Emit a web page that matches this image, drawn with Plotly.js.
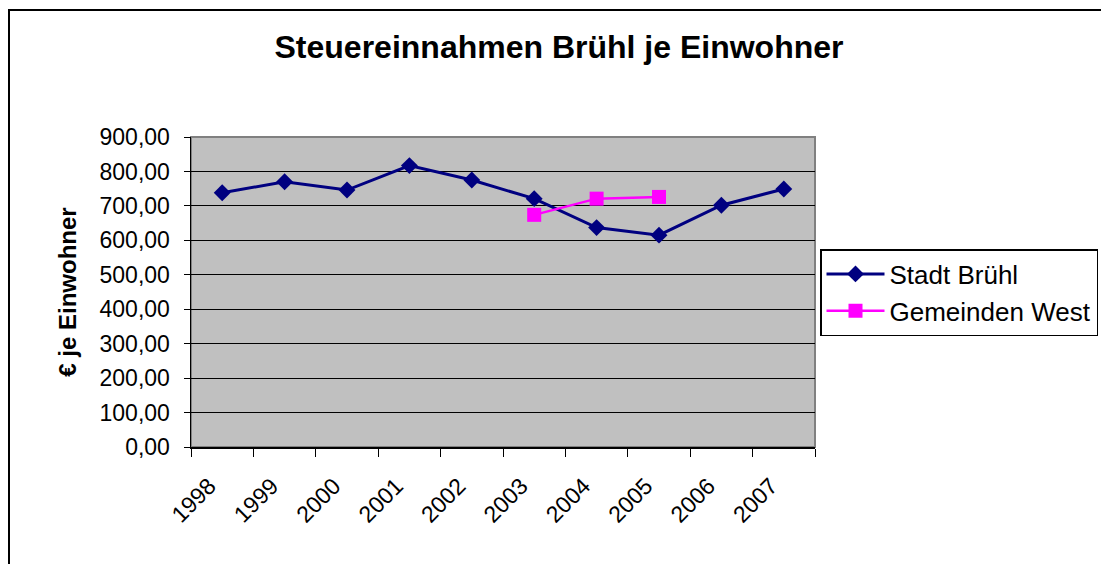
<!DOCTYPE html>
<html>
<head>
<meta charset="utf-8">
<script src="https://cdn.plot.ly/plotly-3.0.1.min.js"></script>
<style>
  html, body { margin: 0; padding: 0; background: #fff; }
  #wrap { position: relative; width: 1101px; height: 564px; overflow: hidden; }
  #chart { position: absolute; left: 0; top: 0; width: 1101px; height: 564px; }
  #frame { position: absolute; left: 8px; top: 9px; width: 1200px; height: 700px;
           border-left: 2px solid #000; border-top: 2px solid #000; pointer-events: none; }
</style>
</head>
<body>
<div id="wrap">
  <div id="chart"></div>
  <div id="frame"></div>
</div>
<script>
const years = ['1998','1999','2000','2001','2002','2003','2004','2005','2006','2007'];
const stadtBruehl = [738, 770, 746, 817, 775, 721, 637, 615, 702, 749];
const westYears = ['2003','2004','2005'];
const gemeindenWest = [674, 721, 726];
const yTickVals = [0,100,200,300,400,500,600,700,800,900];
const yTickText = ['0,00','100,00','200,00','300,00','400,00','500,00','600,00','700,00','800,00','900,00'];

const FONT = 'Arial, "Liberation Sans", sans-serif';

const traces = [
  {
    x: years, y: stadtBruehl, name: 'Stadt Brühl', type: 'scatter', mode: 'lines+markers',
    line: {color: '#000080', width: 3},
    marker: {symbol: 'diamond', size: 13, color: '#000080'}
  },
  {
    x: westYears, y: gemeindenWest, name: 'Gemeinden West', type: 'scatter', mode: 'lines+markers',
    line: {color: '#FF00FF', width: 2.5},
    marker: {symbol: 'square', size: 14, color: '#FF00FF'}
  }
];

const layout = {
  width: 1101, height: 564,
  paper_bgcolor: 'rgba(0,0,0,0)',
  plot_bgcolor: '#C0C0C0',
  margin: {l: 191, r: 286, t: 137, b: 117, pad: 0, autoexpand: false},
  font: {family: FONT, color: '#000', size: 22},
  showlegend: true,
  title: {
    text: 'Steuereinnahmen Brühl je Einwohner',
    font: {family: FONT, size: 32, color: '#000', weight: 'bold'},
    x: 559/1101, xref: 'container', xanchor: 'center',
    y: 1 - 47/564, yref: 'container', yanchor: 'middle'
  },
  xaxis: {
    type: 'category',
    categoryorder: 'array', categoryarray: years,
    range: [-0.5, 9.5],
    tickson: 'boundaries',
    ticks: 'outside', ticklen: 8, tickwidth: 1, tickcolor: '#000',
    tickangle: -45,
    ticklabelstandoff: 15,
    ticklabelshift: -13,
    tickfont: {family: FONT, size: 23, color: '#000'},
    showline: true, linecolor: '#000', linewidth: 1.5,
    showgrid: false, zeroline: false,
    fixedrange: true
  },
  yaxis: {
    range: [0, 900],
    tickvals: yTickVals, ticktext: yTickText,
    ticks: 'outside', ticklen: 6, tickwidth: 1, tickcolor: '#000',
    ticklabelstandoff: 9,
    tickfont: {family: FONT, size: 23, color: '#000'},
    showline: true, linecolor: '#000', linewidth: 1.5,
    showgrid: true, gridcolor: '#000', gridwidth: 1,
    zeroline: false,
    title: {text: '€ je Einwohner', font: {family: FONT, size: 24, color: '#000', weight: 'bold'}, standoff: 16},
    fixedrange: true
  },
  legend: {
    xref: 'container', yref: 'container',
    x: 820/1101, xanchor: 'left',
    y: 1 - 249/564, yanchor: 'top',
    bgcolor: '#fff', bordercolor: '#000', borderwidth: 1.5,
    font: {family: FONT, size: 26, color: '#000'},
    itemwidth: 58,
    tracegroupgap: 0
  },
  shapes: [
    {type: 'rect', xref: 'paper', yref: 'paper', x0: 0, x1: 1, y0: 0, y1: 1,
     line: {color: '#808080', width: 2}, layer: 'below'}
  ]
};

Plotly.newPlot('chart', traces, layout, {displayModeBar: false, staticPlot: true});
</script>
</body>
</html>
